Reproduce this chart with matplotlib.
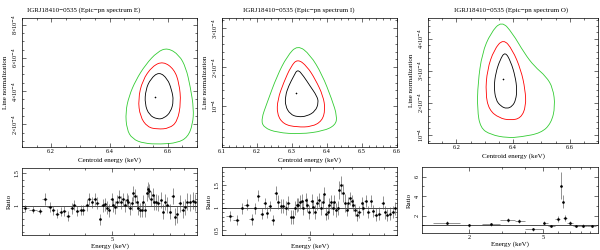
import numpy as np
import matplotlib
matplotlib.use('Agg')
import matplotlib.pyplot as plt
from matplotlib.path import Path
from matplotlib.patches import PathPatch
from matplotlib.ticker import FixedLocator, NullFormatter

plt.rcParams['font.family'] = ['Liberation Serif', 'DejaVu Serif']
plt.rcParams['font.size'] = 4.5

titles = ['IGRJ18410\u22120535 (Epic\u2212pn spectrum E)',
          'IGRJ18410\u22120535 (Epic\u2212pn spectrum I)',
          'IGRJ18410\u22120535 (Epic\u2212pn spectrum O)']

# contours: (centroid keV, normalization in 1e-4)
c1_best = (6.555, 3.66)
c1_black = [(6.570, 5.16), (6.599, 4.74), (6.613, 4.08), (6.620, 3.41), (6.610, 2.74), (6.587, 2.36),
            (6.564, 2.30), (6.536, 2.55), (6.521, 3.22), (6.524, 4.08), (6.541, 4.74)]
c1_red = [(6.584, 5.79), (6.622, 5.31), (6.639, 4.46), (6.645, 3.31), (6.633, 2.17), (6.605, 1.75),
          (6.564, 1.70), (6.530, 1.83), (6.505, 2.46), (6.498, 3.50), (6.513, 4.65), (6.547, 5.50)]
c1_green = [(6.599, 6.61), (6.639, 6.17), (6.662, 5.41), (6.677, 4.27), (6.689, 2.93), (6.685, 1.98),
            (6.668, 1.22), (6.633, 0.88), (6.576, 0.80), (6.518, 0.84), (6.478, 1.12), (6.459, 1.70),
            (6.455, 2.74), (6.467, 3.70), (6.490, 4.65), (6.524, 5.60), (6.564, 6.36)]

c2_best = (6.311, 1.34)
c2_black = [(6.316, 1.95), (6.333, 1.77), (6.352, 1.51), (6.371, 1.26), (6.376, 1.09), (6.367, 0.87),
            (6.343, 0.74), (6.316, 0.72), (6.295, 0.79), (6.281, 1.00), (6.281, 1.26), (6.290, 1.51),
            (6.305, 1.77)]
c2_red = [(6.316, 2.21), (6.343, 2.02), (6.367, 1.68), (6.389, 1.26), (6.395, 0.91), (6.386, 0.62),
          (6.357, 0.47), (6.314, 0.46), (6.276, 0.53), (6.257, 0.79), (6.259, 1.17), (6.276, 1.60),
          (6.297, 2.02)]
c2_green = [(6.316, 2.57), (6.352, 2.32), (6.386, 1.81), (6.414, 1.17), (6.429, 0.74), (6.424, 0.51),
            (6.390, 0.36), (6.324, 0.28), (6.257, 0.32), (6.219, 0.45), (6.212, 0.66), (6.229, 1.09),
            (6.257, 1.77), (6.286, 2.28)]

c3_best = (6.365, 2.75)
c3_black = [(6.372, 3.60), (6.392, 3.29), (6.408, 2.82), (6.414, 2.41), (6.410, 2.09), (6.398, 1.89),
            (6.378, 1.81), (6.357, 1.89), (6.339, 2.09), (6.333, 2.51), (6.339, 2.93), (6.354, 3.34)]
c3_red = [(6.366, 4.00), (6.398, 3.66), (6.428, 3.03), (6.443, 2.41), (6.446, 1.89), (6.428, 1.52),
          (6.392, 1.45), (6.351, 1.52), (6.315, 1.78), (6.303, 2.30), (6.309, 3.03), (6.333, 3.66)]
c3_green = [(6.360, 4.56), (6.398, 4.18), (6.440, 3.55), (6.475, 3.14), (6.517, 2.82), (6.541, 2.46),
            (6.549, 1.89), (6.535, 1.36), (6.499, 1.05), (6.428, 0.93), (6.380, 0.90), (6.321, 1.00),
            (6.285, 1.21), (6.274, 1.78), (6.276, 2.61), (6.291, 3.55), (6.321, 4.18)]

# residual ratios
e1 = [2.46, 2.63, 2.78, 2.89, 3.01, 3.10, 3.20, 3.29, 3.38, 3.50, 3.60, 3.67, 3.77, 3.87, 3.96,
      4.07, 4.16, 4.24, 4.35, 4.44, 4.53, 4.63, 4.72, 4.81, 4.89, 4.98, 5.05, 5.12, 5.22, 5.31,
      5.37, 5.45, 5.56, 5.64, 5.71, 5.79, 5.87, 5.95, 6.03, 6.11, 6.20, 6.28, 6.37, 6.45, 6.55,
      6.63, 6.73, 6.78, 6.85, 6.97, 7.06, 7.16, 7.30, 7.44, 7.56, 7.70, 7.84, 8.02, 8.19, 8.35,
      8.50, 8.70, 8.90, 9.07, 9.24, 9.44, 9.65, 9.84]
r1 = [0.96, 0.94, 0.92, 1.10, 0.98, 0.93, 0.88, 0.91, 0.92, 0.84, 0.96, 1.01, 0.92, 0.93, 0.93,
      1.01, 1.10, 1.05, 1.10, 1.04, 0.79, 1.01, 1.02, 0.97, 0.93, 1.10, 1.01, 0.98, 1.06, 1.14,
      1.05, 1.10, 1.01, 1.09, 1.06, 0.96, 1.04, 1.19, 1.15, 1.06, 0.96, 0.93, 0.94, 1.06, 0.93,
      1.19, 1.25, 1.22, 1.11, 1.16, 1.05, 1.06, 1.04, 1.09, 0.91, 1.06, 1.01, 0.91, 1.15, 0.83,
      0.87, 1.04, 0.94, 0.98, 1.06, 1.05, 1.08, 1.05]
err1 = [0.05, 0.05, 0.05, 0.09, 0.07, 0.07, 0.07, 0.07, 0.08, 0.08, 0.08, 0.08, 0.08, 0.08, 0.08,
        0.09, 0.09, 0.09, 0.09, 0.09, 0.09, 0.10, 0.10, 0.10, 0.10, 0.10, 0.10, 0.10, 0.10, 0.10,
        0.10, 0.10, 0.10, 0.10, 0.10, 0.10, 0.10, 0.11, 0.11, 0.11, 0.11, 0.11, 0.11, 0.11, 0.11,
        0.12, 0.12, 0.12, 0.12, 0.12, 0.12, 0.12, 0.12, 0.12, 0.12, 0.12, 0.12, 0.12, 0.13, 0.13,
        0.13, 0.13, 0.13, 0.13, 0.13, 0.13, 0.13, 0.13]

e2 = [2.66, 2.81, 2.92, 3.04, 3.16, 3.25, 3.33, 3.42, 3.51, 3.56, 3.66, 3.73, 3.83, 3.91, 3.99,
      4.06, 4.15, 4.23, 4.31, 4.40, 4.46, 4.52, 4.58, 4.64, 4.70, 4.76, 4.86, 4.91, 4.99, 5.09,
      5.15, 5.22, 5.32, 5.40, 5.48, 5.55, 5.62, 5.70, 5.77, 5.85, 5.93, 6.01, 6.09, 6.17, 6.25,
      6.33, 6.42, 6.54, 6.62, 6.71, 6.80, 6.89, 6.98, 7.07, 7.17, 7.30, 7.42, 7.56, 7.66, 7.80,
      7.97, 8.12, 8.24, 8.47, 8.69, 8.92, 9.09, 9.26, 9.46, 9.66, 9.84]
r2 = [0.82, 0.73, 0.99, 1.07, 0.75, 0.99, 1.27, 0.87, 1.10, 0.89, 1.04, 0.73, 1.32, 1.13, 1.04,
      1.04, 1.00, 1.10, 0.80, 0.80, 0.99, 1.06, 1.07, 1.13, 1.15, 0.99, 1.17, 1.06, 0.91, 1.15,
      1.02, 0.91, 1.10, 1.17, 0.99, 1.13, 1.30, 0.87, 0.91, 1.06, 1.13, 1.00, 1.13, 0.95, 0.99,
      1.39, 1.50, 1.32, 1.10, 0.95, 1.10, 1.21, 1.15, 1.06, 0.95, 0.84, 0.91, 1.10, 0.99, 1.15,
      0.91, 1.15, 0.93, 0.85, 0.87, 1.11, 0.90, 0.84, 0.87, 0.91, 0.99]
err2 = [0.12] * 12 + [0.15] * 33 + [0.20] * 4 + [0.14] * 22

e3 = [1.52, 2.00, 2.63, 3.25, 3.73, 4.44, 5.08, 5.56, 6.04, 6.27, 6.38, 6.62, 6.98, 7.58, 8.24, 9.14]
e3_lo = [1.29, 1.79, 2.34, 2.93, 3.53, 4.00, 5.02, 5.33, 5.80, 6.20, 6.32, 6.45, 6.78, 7.27, 7.90, 8.66]
e3_hi = [1.79, 2.34, 2.93, 3.53, 4.00, 5.02, 5.33, 5.80, 6.20, 6.32, 6.45, 6.78, 7.27, 7.90, 8.66, 9.70]
r3 = [1.25, 0.98, 1.08, 1.57, 1.41, 0.59, 1.25, 0.92, 1.64, 5.08, 3.44, 1.74, 1.21, 0.92, 0.95, 0.92]
err3 = [0.20, 0.15, 0.15, 0.20, 0.20, 0.15, 0.20, 0.15, 0.30, 1.40, 0.65, 0.30, 0.20, 0.15, 0.15, 0.15]

GREEN = '#33cc33'


def smooth_closed(ax, pts, color):
    pts = np.asarray(pts)
    n = len(pts)
    mids = (pts + np.roll(pts, -1, axis=0)) / 2
    verts = [mids[-1]]
    codes = [Path.MOVETO]
    for i in range(n):
        verts += [pts[i], mids[i]]
        codes += [Path.CURVE3, Path.CURVE3]
    ax.add_patch(PathPatch(Path(verts, codes), fill=False, edgecolor=color, lw=0.6))


def style(ax):
    ax.tick_params(which='both', direction='in', top=True, right=True, width=0.4, pad=1.5)
    ax.tick_params(which='major', length=3)
    ax.tick_params(which='minor', length=1.5)
    for s in ax.spines.values():
        s.set_linewidth(0.5)
    plt.setp(ax.get_yticklabels(), rotation=90, va='center')


fig = plt.figure(figsize=(6, 2.5), dpi=100)
W, H = 600.0, 250.0


def axes_px(x0, x1, y0, y1):
    return fig.add_axes([x0 / W, 1 - y1 / H, (x1 - x0) / W, (y1 - y0) / H])


top_boxes = [(22, 197, 18, 147), (222, 397, 18, 147), (428, 598, 18, 143)]
top_xlim = [(6.1, 6.7), (6.1, 6.6), (6.1, 6.7)]
top_ylim = [(0.63, 8.4), (-0.05, 3.26), (0.74, 4.65)]
top_xticks = [[6.2, 6.4, 6.6], [6.1, 6.2, 6.3, 6.4, 6.5, 6.6], [6.2, 6.4, 6.6]]
top_yticks = [[2, 4, 6, 8], [1, 2, 3], [1, 2, 3, 4]]
contours = [(c1_best, c1_black, c1_red, c1_green),
            (c2_best, c2_black, c2_red, c2_green),
            (c3_best, c3_black, c3_red, c3_green)]
title_x = [0.03, 0.12, 0.15]


def norm_label(v):
    return '10$^{-4}$' if v == 1 else '%d\u00d710$^{-4}$' % v


for k in range(3):
    ax = axes_px(*top_boxes[k])
    best, blk, red, grn = contours[k]
    smooth_closed(ax, grn, GREEN)
    smooth_closed(ax, red, 'red')
    smooth_closed(ax, blk, 'black')
    ax.plot([best[0]], [best[1]], marker='+', color='black', ms=2, mew=0.4, ls='none')
    ax.set_xlim(*top_xlim[k])
    ax.set_ylim(*top_ylim[k])
    ax.set_xticks(top_xticks[k])
    ax.set_xticklabels(['%.1f' % v for v in top_xticks[k]])
    ax.set_yticks(top_yticks[k])
    ax.set_yticklabels([norm_label(v) for v in top_yticks[k]])
    ax.minorticks_on()
    style(ax)
    ax.set_xlabel('Centroid energy (keV)', fontsize=5, labelpad=2.5)
    ax.set_ylabel('Line normalization', fontsize=5, labelpad=2)
    ax.text(title_x[k], 1.04, titles[k], transform=ax.transAxes, fontsize=5, ha='left', va='bottom')

# residual panels
bot_boxes = [(22, 197, 168, 235), (222, 397, 167, 235), (422, 598, 167, 233)]
bot_xlim = [(2.4, 10), (2.5, 10), (1.12, 9.9)]
bot_ylim = [(0.55, 1.58), (0.4, 1.9), (0.2, 7.0)]
bot_yticks = [[1, 1.5], [0.5, 1, 1.5], [2, 4, 6]]
bot_ylabels = [['1', '1.5'], ['0.5', '1', '1.5'], ['2', '4', '6']]
bot_yminor = [np.arange(0.6, 1.6, 0.1), np.arange(0.4, 1.9, 0.1), np.arange(1, 7, 1)]
bot_xmajor = [[5], [5], [2, 5]]
bot_xminor = [[3, 4, 6, 7, 8, 9], [3, 4, 6, 7, 8, 9], [3, 4, 6, 7, 8, 9]]


def half_widths(e):
    e = np.asarray(e)
    edges = np.sqrt(e[1:] * e[:-1])
    lo = np.concatenate([[e[0] ** 2 / edges[0]], edges])
    hi = np.concatenate([edges, [e[-1] ** 2 / edges[-1]]])
    return e - lo, hi - e


residuals = []
xl, xh = half_widths(e1)
residuals.append((e1, r1, err1, xl, xh))
xl, xh = half_widths(e2)
residuals.append((e2, r2, err2, xl, xh))
residuals.append((e3, r3, err3, np.subtract(e3, e3_lo), np.subtract(e3_hi, e3)))

for k in range(3):
    ax = axes_px(*bot_boxes[k])
    e, r, er, xl, xh = residuals[k]
    ax.axhline(1.0, color='black', lw=0.5)
    ax.errorbar(e, r, yerr=er, xerr=[xl, xh], fmt='o', ms=0.9, color='black',
                ecolor='#555555', elinewidth=0.45, capsize=0)
    ax.set_xscale('log')
    ax.set_xlim(*bot_xlim[k])
    ax.set_ylim(*bot_ylim[k])
    ax.xaxis.set_major_locator(FixedLocator(bot_xmajor[k]))
    ax.set_xticklabels([str(v) for v in bot_xmajor[k]])
    ax.xaxis.set_minor_locator(FixedLocator(bot_xminor[k]))
    ax.xaxis.set_minor_formatter(NullFormatter())
    ax.set_yticks(bot_yticks[k])
    ax.set_yticklabels(bot_ylabels[k])
    ax.yaxis.set_minor_locator(FixedLocator(bot_yminor[k]))
    style(ax)
    ax.set_xlabel('Energy (keV)', fontsize=5, labelpad=1)
    ax.set_ylabel('Ratio', fontsize=5, labelpad=2)

fig.savefig('out.png', dpi=100)
